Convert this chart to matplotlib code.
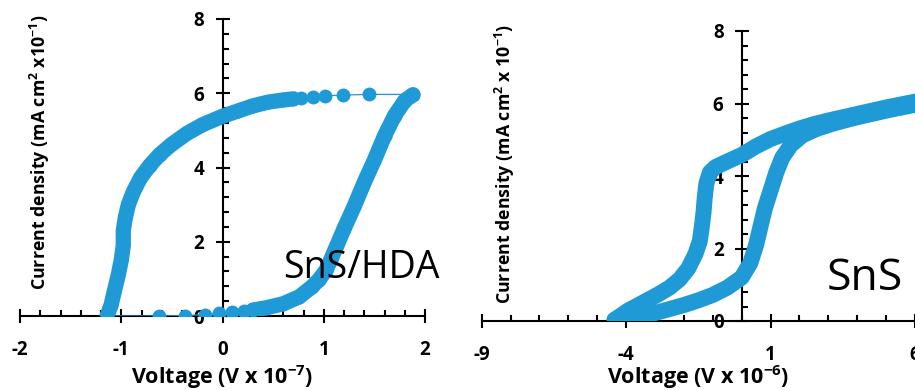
import matplotlib
matplotlib.use('Agg')
import matplotlib.pyplot as plt
from matplotlib.ticker import MultipleLocator, FixedLocator

plt.rcParams['font.family'] = ['Open Sans', 'DejaVu Sans']
plt.rcParams['mathtext.fontset'] = 'custom'
plt.rcParams['mathtext.default'] = 'regular'
plt.rcParams['axes.unicode_minus'] = False

BLUE = '#1f9ad6'

# ---- SnS/HDA (left panel) ----
hda_up_v = [-1.14, -0.63, -0.37, -0.17, -0.03, 0.09, 0.21, 0.30, 0.43, 0.60, 0.76, 0.88,
            0.95, 1.02, 1.07, 1.13, 1.20, 1.30, 1.40, 1.50, 1.60, 1.70, 1.80, 1.88]
hda_up_j = [0.00, 0.00, 0.01, 0.04, 0.08, 0.10, 0.13, 0.16, 0.22, 0.33, 0.52, 0.78,
            0.97, 1.22, 1.52, 1.90, 2.35, 2.95, 3.60, 4.20, 4.85, 5.40, 5.80, 5.96]
hda_dn_v = [1.88, 1.45, 1.19, 1.01, 0.89, 0.78, 0.70, 0.60, 0.45, 0.30, 0.15, 0.00, -0.20,
            -0.35, -0.50, -0.62, -0.72, -0.81, -0.88, -0.93, -0.96, -0.98, -0.98, -1.00,
            -1.03, -1.07, -1.10, -1.14]
hda_dn_j = [5.97, 5.97, 5.95, 5.93, 5.90, 5.87, 5.85, 5.82, 5.76, 5.66, 5.52, 5.38, 5.15,
            4.92, 4.63, 4.35, 4.05, 3.72, 3.35, 3.00, 2.65, 2.30, 1.90, 1.50, 1.10, 0.65,
            0.30, 0.00]

# ---- SnS (right panel) ----
sns_up_v = [-4.40, -4.00, -3.50, -3.00, -2.50, -2.00, -1.50, -1.00, -0.50, 0.00, 0.30, 0.50,
            0.65, 0.80, 1.00, 1.20, 1.40, 1.70, 2.10, 2.60, 3.10, 3.60, 4.10, 4.60, 5.10,
            5.60, 6.10, 6.40]
sns_up_j = [0.02, 0.06, 0.13, 0.22, 0.33, 0.44, 0.57, 0.72, 0.92, 1.20, 1.60, 2.10,
            2.60, 3.10, 3.60, 4.10, 4.50, 4.85, 5.12, 5.30, 5.43, 5.54, 5.64, 5.73, 5.82,
            5.90, 5.98, 6.03]
sns_dn_v = [6.40, 6.00, 5.50, 5.00, 4.50, 4.00, 3.50, 3.00, 2.50, 2.00, 1.50, 1.00, 0.50,
            0.00, -0.50, -0.90, -1.10, -1.22, -1.28, -1.32, -1.38, -1.45, -1.60, -1.85,
            -2.15, -2.50, -2.90, -3.25, -3.60, -3.95, -4.20, -4.40]
sns_dn_j = [6.12, 6.05, 5.97, 5.89, 5.80, 5.71, 5.62, 5.53, 5.43, 5.31, 5.17, 5.02, 4.82,
            4.58, 4.40, 4.25, 4.10, 3.80, 3.40, 3.00, 2.60, 2.20, 1.85, 1.45, 1.15, 0.92,
            0.73, 0.58, 0.43, 0.28, 0.14, 0.04]

hda_xticks = [-2, -1, 0, 1, 2]
sns_xticks = [-9, -4, 1, 6]
yticks = [0, 2, 4, 6, 8]

W, H = 915, 390
fig = plt.figure(figsize=(W / 100, H / 100), dpi=100)
axL = fig.add_axes([20/W, 74/H, 405/W, 297/H])
axR = fig.add_axes([481.7/W, 69/H, 433.3/W, 290/H])


def style(ax, xlim, xticks, xminor):
    ax.set_xlim(*xlim)
    ax.set_ylim(0, 8)
    for s in ('top', 'right'):
        ax.spines[s].set_visible(False)
    ax.spines['left'].set_position(('data', 0))
    for s in ('left', 'bottom'):
        ax.spines[s].set_linewidth(1.5)
        ax.spines[s].set_zorder(2.5)
    ax.xaxis.set_major_locator(FixedLocator(xticks))
    ax.xaxis.set_minor_locator(MultipleLocator(xminor))
    ax.yaxis.set_major_locator(FixedLocator(yticks))
    ax.yaxis.set_minor_locator(MultipleLocator(0.4))
    ax.tick_params(which='major', direction='inout', length=10, width=1.5,
                   labelsize=13.5, color='black')
    ax.tick_params(which='minor', direction='in', length=4.5, width=1.5)
    ax.tick_params(axis='x', which='major', pad=12)
    ax.tick_params(axis='y', which='major', pad=8)
    for lab in ax.get_xticklabels() + ax.get_yticklabels():
        lab.set_fontweight('bold')
    ax.patch.set_visible(False)


style(axL, (-2, 2), hda_xticks, 0.2)
style(axR, (-9, 6), sns_xticks, 1)

# left: markers joined by a thin line, dense runs drawn as a solid band
for v, j, k in ((hda_up_v, hda_up_j, 7), (hda_dn_v, hda_dn_j, 6)):
    axL.plot(v, j, '-', color=BLUE, lw=0.9, marker='o', ms=10, mew=0, zorder=3)
    axL.plot(v[k:], j[k:], '-', color=BLUE, lw=11, solid_capstyle='round',
             solid_joinstyle='round', zorder=3)

for v, j in ((sns_up_v, sns_up_j), (sns_dn_v, sns_dn_j)):
    axR.plot(v, j, '-', color=BLUE, lw=11.5, solid_capstyle='round',
             solid_joinstyle='round', zorder=3)

fig.text(361/W, 1 - 268/H, 'SnS/HDA', fontsize=27, ha='center', va='center')
fig.text(865/W, 1 - 279/H, 'SnS', fontsize=32, ha='center', va='center')

fig.text(40/W, 1 - 152/H, r'Current density (mA cm$^{2}$ x10$^{-1}$)', rotation=90,
         ha='center', va='center', fontsize=12.8, fontweight='bold')
fig.text(505/W, 1 - 163.5/H, r'Current density (mA cm$^{2}$ x 10$^{-1}$)', rotation=90,
         ha='center', va='center', fontsize=12.8, fontweight='bold')
fig.text(222/W, 1 - 377/H, r'Voltage (V x 10$^{-7}$)', ha='center', va='center',
         fontsize=15.5, fontweight='bold')
fig.text(698/W, 1 - 377/H, r'Voltage (V x 10$^{-6}$)', ha='center', va='center',
         fontsize=15.5, fontweight='bold')

fig.savefig('out.png', dpi=100)
